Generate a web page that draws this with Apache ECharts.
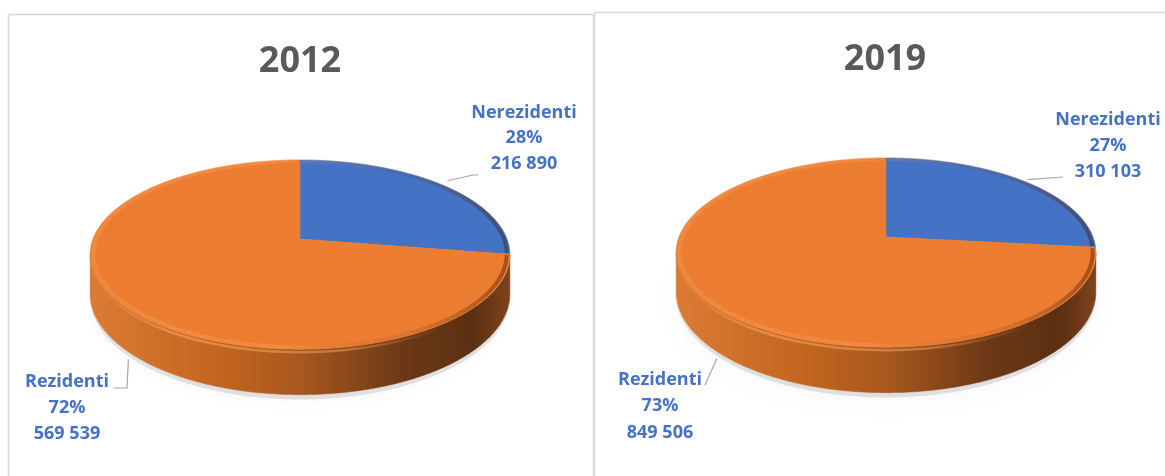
<!DOCTYPE html>
<html>
<head>
<meta charset="utf-8">
<script src="https://cdn.jsdelivr.net/npm/echarts@6/dist/echarts.min.js"></script>
<style>
  html, body { margin: 0; padding: 0; background: #fff; }
  #chart { width: 1165px; height: 476px; }
</style>
</head>
<body>
<div id="chart"></div>
<script>
// ---- data ----
const categories = ['Nerezidenti', 'Rezidenti'];
const years = ['2012', '2019'];
const values2012 = [216890, 569539];
const values2019 = [310103, 849506];

// ---- layout / style ----
const K = 0.165, A = 92, B = 207, DEPTH = 38;
const pieCenters = [[300, 239], [886, 237]];
const titlePos = [[300, 62], [885, 60]];
const sliceColors = ['#4472C4', '#ED7D31'];
const wallStops = [
  [[0, '#2F5597'], [0.5, '#2A4C88'], [1, '#1F3864']],
  [[0, '#DB7A34'], [0.3, '#C3661F'], [0.5, '#A8581E'], [0.75, '#6C3816'], [0.92, '#5B2F12'], [1, '#7B421B']]
];
const labelLayout = [
  [ { pos: [524, 138], lh: 25.5, anchorR: 1.03, anchorD: 0, off: [1, -3], bend: [[473, 175], [478, 175]] },
    { pos: [67, 408], lh: 26, anchorR: 1.0, anchorD: DEPTH, off: [5, 11], bend: [[127, 388], [114, 388]] } ],
  [ { pos: [1108, 146], lh: 26, anchorR: 1.02, anchorD: 0, off: [0, -1], bend: [[1063, 177]] },
    { pos: [660, 406], lh: 26.5, anchorR: 1.0, anchorD: DEPTH, off: [4, 10], bend: [[705, 385]] } ]
];
const FONT = '"Open Sans", "Noto Sans", sans-serif';

function proj(cx, cy, t, r, d) {
  const u = r * Math.sin(t), v = r * Math.cos(t);
  const s = 1 / (1 + K * v);
  return [cx + B * u * s, cy + (-A * v + d) * s];
}
function arcPts(cx, cy, a, b, r, d) {
  const n = Math.max(2, Math.ceil(Math.abs(b - a) / (Math.PI / 360)));
  const out = [];
  for (let i = 0; i <= n; i++) out.push(proj(cx, cy, a + (b - a) * i / n, r, d));
  return out;
}
function fmt(v) { return String(v).replace(/\B(?=(\d{3})+(?!\d))/g, ' '); }
function hGrad(cx, stops) {
  return { type: 'linear', x: cx - B, y: 0, x2: cx + B, y2: 0, global: true,
    colorStops: stops.map(s => ({ offset: s[0], color: s[1] })) };
}

const TR = Math.acos(-K), TL = 2 * Math.PI - TR;

function makeSeries(p, values) {
  const total = values.reduce((a, b) => a + b, 0);
  const [cx, cy] = pieCenters[p];
  return {
    type: 'custom',
    coordinateSystem: 'none',
    data: values.map((v, i) => ({ value: v, name: categories[i] })),
    renderItem: function (params, api) {
      const i = params.dataIndex;
      const v = api.value(0);
      let before = 0;
      for (let j = 0; j < i; j++) before += values[j];
      const a = before / total * 2 * Math.PI;
      const b = (before + v) / total * 2 * Math.PI;
      const children = [];
      if (i === 0) {
        // soft drop shadow under the pie
        children.push({
          type: 'polygon',
          shape: { points: arcPts(cx, cy, 0, 2 * Math.PI, 1.0, DEPTH + 4) },
          style: { fill: 'rgba(0,0,0,0.10)', shadowBlur: 14, shadowColor: 'rgba(0,0,0,0.28)', shadowOffsetY: 4 }
        });
      }
      // wall (visible front part)
      const wa = Math.max(a, TR), wb = Math.min(b, TL);
      if (wb > wa) {
        const top = arcPts(cx, cy, wa, wb, 1, 0);
        const bot = arcPts(cx, cy, wa, wb, 1, DEPTH).reverse();
        children.push({
          type: 'polygon',
          shape: { points: top.concat(bot) },
          style: { fill: hGrad(cx, wallStops[i]), stroke: hGrad(cx, wallStops[i]), lineWidth: 0.5 }
        });
      }
      // top face
      const face = [[cx, cy]].concat(arcPts(cx, cy, a, b, 1, 0));
      children.push({
        type: 'polygon',
        shape: { points: face },
        style: { fill: sliceColors[i], stroke: sliceColors[i], lineWidth: 0.6 }
      });
      // bevel rim: dark on right side, light highlight on front
      children.push({
        type: 'polyline',
        shape: { points: arcPts(cx, cy, a + 0.01, b - 0.01, 0.985, 0) },
        style: { fill: null, lineWidth: 4,
          stroke: hGrad(cx, [[0, 'rgba(255,190,130,0.18)'], [0.45, 'rgba(255,180,120,0.22)'],
                             [0.75, 'rgba(120,50,10,0.12)'], [1, 'rgba(70,30,5,0.45)']]) }
      });
      const fa = Math.max(a, Math.PI * 0.62), fb = Math.min(b, Math.PI * 1.45);
      if (fb > fa) {
        children.push({
          type: 'polyline',
          shape: { points: arcPts(cx, cy, fa, fb, 1, 2.5) },
          style: { fill: null, lineWidth: 2.5,
            stroke: hGrad(cx, [[0, 'rgba(255,175,110,0.0)'], [0.2, 'rgba(255,175,110,0.5)'],
                               [0.6, 'rgba(255,170,100,0.45)'], [0.85, 'rgba(255,160,90,0.0)'], [1, 'rgba(255,160,90,0)']]) }
        });
      }
      // leader line + label
      const L = labelLayout[p][i];
      const mid = (a + b) / 2;
      const anc = proj(cx, cy, mid, L.anchorR, L.anchorD);
      const start = [anc[0] + L.off[0], anc[1] + L.off[1]];
      children.push({
        type: 'polyline',
        shape: { points: [start].concat(L.bend) },
        style: { fill: null, stroke: '#A6A6A6', lineWidth: 1.2 }
      });
      const pct = Math.round(v / total * 100) + '%';
      children.push({
        type: 'text',
        x: L.pos[0], y: L.pos[1],
        style: {
          text: categories[i] + '\n' + pct + '\n' + fmt(v),
          align: 'center', verticalAlign: 'middle',
          lineHeight: L.lh,
          fontFamily: FONT, fontWeight: 'bold', fontSize: 18,
          fill: '#4472C4'
        }
      });
      return { type: 'group', children: children };
    }
  };
}

const chart = echarts.init(document.getElementById('chart'), null, { renderer: 'canvas' });
chart.setOption({
  animation: false,
  backgroundColor: '#ffffff',
  graphic: [
    { type: 'rect', z: -10, shape: { x: 8.5, y: 14.5, width: 585, height: 500 },
      style: { fill: null, stroke: '#D9D9D9', lineWidth: 1.5 } },
    { type: 'rect', z: -10, shape: { x: 594.5, y: 12.5, width: 600, height: 500 },
      style: { fill: null, stroke: '#D9D9D9', lineWidth: 1.5 } },
    { type: 'text', x: titlePos[0][0], y: titlePos[0][1],
      style: { text: years[0], align: 'center', verticalAlign: 'middle', fontFamily: FONT,
               fontWeight: 'bold', fontSize: 36, fill: '#595959' } },
    { type: 'text', x: titlePos[1][0], y: titlePos[1][1],
      style: { text: years[1], align: 'center', verticalAlign: 'middle', fontFamily: FONT,
               fontWeight: 'bold', fontSize: 36, fill: '#595959' } }
  ],
  series: [makeSeries(0, values2012), makeSeries(1, values2019)]
});
</script>
</body>
</html>
